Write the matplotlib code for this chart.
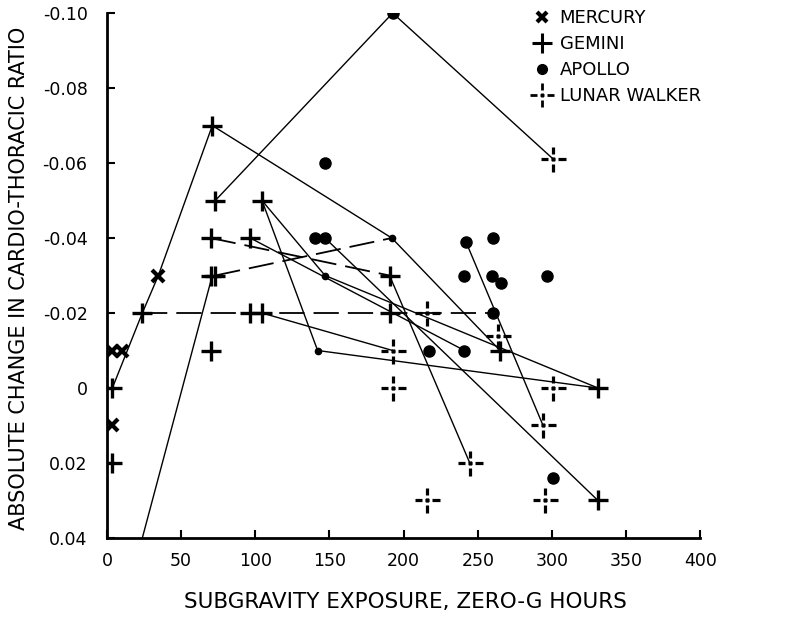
import numpy as np
import matplotlib
matplotlib.use("Agg")
import matplotlib.pyplot as plt
from matplotlib.path import Path

# markers (x = zero-g hours, y = change in C/T ratio)
mercury_x = [3.6, 10, 34.6, 3.6]
mercury_y = [-0.01, -0.01, -0.03, 0.01]

gemini_x = [3.6, 3.6, 23.8, 71, 73, 104.5, 70, 96.6, 70, 73, 96.6, 104.5, 70, 190.5, 190.5, 265, 331, 331]
gemini_y = [0, 0.02, -0.02, -0.07, -0.05, -0.05, -0.04, -0.04, -0.03, -0.03, -0.02, -0.02, -0.01, -0.03, -0.02, -0.01, 0, 0.03]

apollo_x = [192.6, 147, 140.5, 147, 242, 260, 241, 259.5, 265.5, 296.6, 260, 217, 241, 301]
apollo_y = [-0.10, -0.06, -0.04, -0.04, -0.039, -0.04, -0.03, -0.03, -0.028, -0.03, -0.02, -0.01, -0.01, 0.024]

# small apollo dots where the lines bend
apollo_small_x = [192, 147, 142]
apollo_small_y = [-0.04, -0.03, -0.01]

lunar_x = [301, 216, 192.6, 263.5, 192.6, 300.7, 294, 244.6, 216, 295]
lunar_y = [-0.061, -0.02, -0.01, -0.014, 0, 0, 0.01, 0.02, 0.03, 0.03]

# lines joining the same astronaut's flights
solid_links = [
    ([3.6, 23.8, 34.6, 71, 192, 265], [0, -0.02, -0.03, -0.07, -0.04, -0.01]),
    ([73, 192.6, 301], [-0.05, -0.10, -0.061]),
    ([23.8, 71], [0.04, -0.03]),
    ([104.5, 147, 331], [-0.05, -0.03, 0]),
    ([104.5, 142, 331], [-0.05, -0.01, 0]),
    ([104.5, 192.6], [-0.02, -0.01]),
    ([96.6, 241], [-0.04, -0.01]),
    ([147, 331], [-0.04, 0.03]),
    ([242, 294], [-0.039, 0.01]),
    ([190.5, 244.6], [-0.03, 0.02]),
]
dashed_links = [
    ([23.8, 260], [-0.02, -0.02]),
    ([73, 192], [-0.03, -0.04]),
    ([70, 190.5], [-0.04, -0.03]),
]

xticks = [0, 50, 100, 150, 200, 250, 300, 350, 400]
yticks = [-0.10, -0.08, -0.06, -0.04, -0.02, 0, 0.02, 0.04]
ytick_labels = ['-0.10', '-0.08', '-0.06', '-0.04', '-0.02', '0', '0.02', '0.04']

# broken cross used for the lunar walkers
verts = [(-1, 0), (-0.4, 0), (-0.15, 0), (0.15, 0), (0.4, 0), (1, 0),
         (0, 1), (0, 0.4), (0, 0.15), (0, -0.15), (0, -0.4), (0, -1)]
codes = [Path.MOVETO, Path.LINETO] * 6
lunar_marker = Path(verts, codes)

plt.rcParams['font.family'] = ['DejaVu Sans']

fig = plt.figure(figsize=(7.91, 6.19), dpi=100)
ax = fig.add_axes([0.1353, 0.1309, 0.750, 0.848])

for xs, ys in solid_links:
    ax.plot(xs, ys, color='black', lw=1.0, zorder=2)
for xs, ys in dashed_links:
    ax.plot(xs, ys, color='black', lw=1.3, dashes=(14, 5), zorder=2)

ax.plot(mercury_x, mercury_y, ls='none', marker='x', ms=8, mew=3, color='black', zorder=3)
ax.plot(gemini_x, gemini_y, ls='none', marker='+', ms=15, mew=2.4, color='black', zorder=3)
ax.plot(apollo_x, apollo_y, ls='none', marker='o', ms=8, color='black', zorder=3)
ax.plot(apollo_small_x, apollo_small_y, ls='none', marker='o', ms=4.5, color='black', zorder=3)
ax.plot(lunar_x, lunar_y, ls='none', marker=lunar_marker, ms=18, mew=2.3, color='black', zorder=3)

ax.set_xlim(0, 400)
ax.set_ylim(0.04, -0.10)
ax.set_xticks(xticks)
ax.set_yticks(yticks)
ax.set_yticklabels(ytick_labels)
ax.tick_params(direction='in', length=6, width=1.5, labelsize=12.5)
ax.tick_params(axis='y', pad=14)
ax.tick_params(axis='x', pad=10)
for s in ['top', 'right']:
    ax.spines[s].set_visible(False)
for s in ['left', 'bottom']:
    ax.spines[s].set_linewidth(2)

fig.text(0.512, 0.027, 'SUBGRAVITY EXPOSURE, ZERO-G HOURS', ha='center', va='center', fontsize=15.5)
fig.text(0.024, 0.55, 'ABSOLUTE CHANGE IN CARDIO-THORACIC RATIO', ha='center', va='center',
         rotation=90, fontsize=15)

# legend
h1, = ax.plot([], [], ls='none', marker='x', ms=7, mew=3, color='black')
h2, = ax.plot([], [], ls='none', marker='+', ms=14, mew=2.2, color='black')
h3, = ax.plot([], [], ls='none', marker='o', ms=7, color='black')
h4, = ax.plot([], [], ls='none', marker=lunar_marker, ms=17, mew=2, color='black')
ax.legend([h1, h2, h3, h4], ['MERCURY', 'GEMINI', 'APOLLO', 'LUNAR WALKER'],
          loc='upper left', bbox_to_anchor=(0.655, 1.006), bbox_transform=fig.transFigure,
          frameon=False, fontsize=13, handletextpad=0.4, labelspacing=0.45,
          handlelength=1.2, borderpad=0.2)

plt.savefig('out.png', dpi=100)
